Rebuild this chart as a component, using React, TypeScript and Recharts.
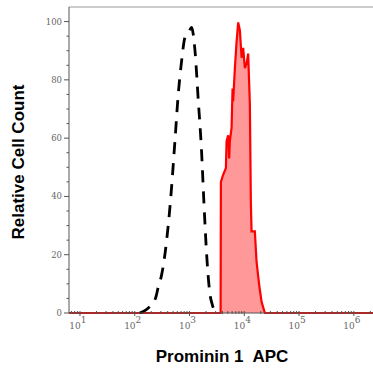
import { ComposedChart, Line, Area, XAxis, YAxis, ReferenceLine } from "recharts";

// log10 of fluorescence intensity
const controlX = [2.09, 2.265, 2.387, 2.43, 2.49, 2.58, 2.655, 2.734, 2.79, 2.856, 2.916, 2.976, 3.038, 3.1, 3.16, 3.22, 3.263, 3.31, 3.37, 3.414, 3.495];
const controlY = [0, 2, 5.5, 9, 13, 24.5, 39, 59, 74, 86.5, 94.5, 96, 98, 90, 73, 55.5, 38, 21, 7, 3, 0];

const prominX = [0.8, 3.568, 3.573, 3.615, 3.664, 3.677, 3.706, 3.724, 3.737, 3.768, 3.786, 3.797, 3.828, 3.859, 3.889, 3.92, 3.951, 3.98, 4.011, 4.042, 4.071, 4.102, 4.12, 4.133, 4.193, 4.224, 4.272, 4.316, 4.376, 6.35];
const prominY = [0, 0, 45, 47.5, 49.7, 59, 61, 53, 59, 63.5, 77, 72.7, 84, 93, 99.7, 97, 87.6, 91, 84, 85.5, 89, 71.7, 38, 28, 28, 17.6, 9.6, 3.8, 0, 0];

const yTicks = [0, 5, 10, 15, 20, 25, 30, 35, 40, 45, 50, 55, 60, 65, 70, 75, 80, 85, 90, 95, 100];
const decades = [0, 1, 2, 3, 4, 5, 6];
const xDomain: [number, number] = [0.8, 6.35];

const xTicks: number[] = [];
decades.forEach((d) => {
  for (let k = 1; k <= 9; k++) {
    const v = d + Math.log10(k);
    if (v >= xDomain[0] && v <= xDomain[1]) xTicks.push(v);
  }
});

type Row = { x: number; ctrl?: number; prom?: number };
const rows: Row[] = [
  ...controlX.map((x, i) => ({ x, ctrl: controlY[i] })),
  ...prominX.map((x, i) => ({ x, prom: prominY[i] })),
].sort((a, b) => a.x - b.x);

const XTick = (props: any) => {
  const { x, y, payload } = props;
  const v = payload.value;
  const major = Math.abs(v - Math.round(v)) < 1e-6;
  return (
    <g>
      <line x1={x} x2={x} y1={y - 2} y2={y + (major ? 3 : 1)} stroke="#555" strokeWidth={1} />
      {major && (
        <text x={x - 2} y={y + 16} textAnchor="middle" fill="#666" fontSize={9} fontFamily="DejaVu Serif, serif">
          10
          <tspan dy={-6} fontSize={9}>
            {Math.round(v)}
          </tspan>
        </text>
      )}
    </g>
  );
};

const YTick = (props: any) => {
  const { x, y, payload } = props;
  const v = payload.value;
  const major = v % 20 === 0;
  return (
    <g>
      <line x1={x - (major ? 5 : 2.5)} x2={x} y1={y} y2={y} stroke="#555" strokeWidth={1} />
      {major && (
        <text x={x - 7} y={y} dy={3} textAnchor="end" fill="#666" fontSize={8.5} fontFamily="DejaVu Serif, serif">
          {v}
        </text>
      )}
    </g>
  );
};

export default function App() {
  return (
    <div style={{ position: "absolute", left: 0, top: 0, width: 373, height: 372, background: "#fff" }}>
      <ComposedChart width={373} height={372} data={rows} margin={{ top: 7, right: 0, left: 0, bottom: 0 }}>
        <XAxis
          dataKey="x"
          type="number"
          domain={xDomain}
          ticks={xTicks}
          tick={<XTick />}
          tickLine={false}
          tickSize={0}
          tickMargin={0}
          interval={0}
          height={59}
          axisLine={{ stroke: "#555" }}
          allowDataOverflow
        />
        <YAxis
          type="number"
          domain={[0, 105]}
          ticks={yTicks}
          tick={<YTick />}
          tickLine={false}
          tickSize={0}
          tickMargin={0}
          interval={0}
          width={69}
          axisLine={{ stroke: "#555" }}
        />
        <ReferenceLine y={105} stroke="#999" strokeWidth={1} />
        <Line
          dataKey="ctrl"
          type="monotone"
          stroke="#000"
          strokeWidth={2.8}
          strokeDasharray="12 9"
          dot={false}
          connectNulls
          isAnimationActive={false}
        />
        <Area
          dataKey="prom"
          type="linear"
          stroke="#ff0000"
          strokeWidth={2.2}
          fill="#ff8080"
          fillOpacity={0.8}
          dot={false}
          connectNulls
          isAnimationActive={false}
        />
      </ComposedChart>
      <div
        style={{
          position: "absolute",
          left: 19,
          top: 162,
          transform: "translate(-50%, -50%) rotate(-90deg)",
          whiteSpace: "nowrap",
          fontFamily: "'Liberation Sans', Arial, sans-serif",
          fontWeight: "bold",
          fontSize: 17,
          color: "#000",
        }}
      >
        Relative Cell Count
      </div>
      <div
        style={{
          position: "absolute",
          left: 222,
          top: 357,
          transform: "translate(-50%, -50%)",
          whiteSpace: "pre",
          fontFamily: "'Liberation Sans', Arial, sans-serif",
          fontWeight: "bold",
          fontSize: 17,
          color: "#000",
        }}
      >
        Prominin 1  APC
      </div>
    </div>
  );
}
